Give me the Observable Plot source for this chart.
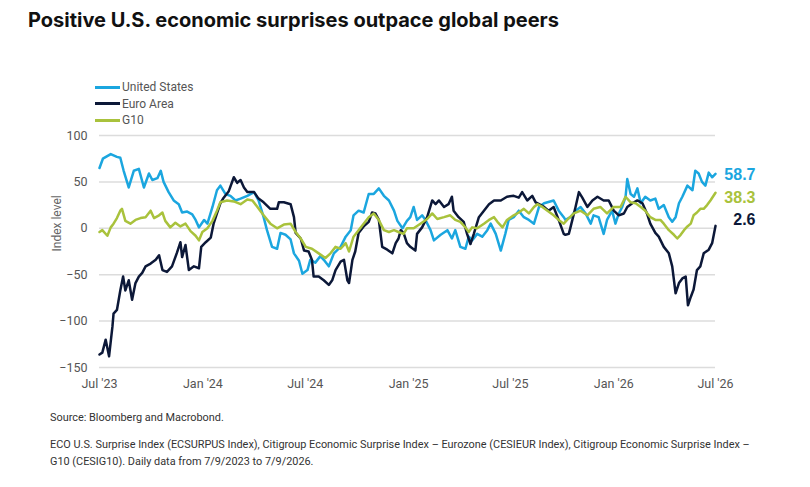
<!DOCTYPE html>
<html>
<head>
<meta charset="utf-8">
<script src="https://cdn.jsdelivr.net/npm/d3@7"></script>
<script src="https://cdn.jsdelivr.net/npm/@observablehq/plot@0.6"></script>
<style>
  body { margin: 0; background: #fff; }
  #page { position: relative; width: 810px; height: 487px; overflow: hidden; font-family: "Roboto", sans-serif; }
  #title { position: absolute; left: 28px; top: 8px; font: 700 20px "Inter", "Liberation Sans", sans-serif; color: #111; white-space: nowrap; }
  #chart { position: absolute; left: 0; top: 70px; }
  #legend { position: absolute; left: 95px; top: 79px; font-size: 12px; color: #555; }
  #legend .row { display: flex; align-items: center; height: 16.5px; }
  #legend .sw { width: 25px; height: 3px; margin-right: 2px; }
  .foot { position: absolute; left: 50px; font-size: 10.9px; color: #333; line-height: 17px; white-space: nowrap; }
</style>
</head>
<body>
<div id="page">
  <div id="title">Positive U.S. economic surprises outpace global peers</div>
  <div id="chart"></div>
  <div id="legend"></div>
  <div class="foot" style="top:409px">Source: Bloomberg and Macrobond.</div>
  <div class="foot" style="top:436px">ECO U.S. Surprise Index (ECSURPUS Index), Citigroup Economic Surprise Index – Eurozone (CESIEUR Index), Citigroup Economic Surprise Index –<br>G10 (CESIG10). Daily data from 7/9/2023 to 7/9/2026.</div>
</div>
<script>
// Series names and colours
const seriesNames = ["United States", "Euro Area", "G10"];
const seriesColors = ["#1ba6df", "#0c1838", "#a9c23c"];

// Days since 9 Jul 2023 and index level, per series
const usDays = [0,6,20,31,37,43,52,61,70,79,88,94,103,109,114,123,132,141,147,156,165,171,177,186,192,201,209,215,224,233,242,251,263,275,283,292,298,307,316,322,331,340,346,355,361,370,375,384,393,399,408,417,429,438,447,452,461,470,479,488,497,506,515,524,530,539,547,553,559,565,574,580,589,595,607,619,627,633,642,651,657,663,672,681,690,696,705,714,722,728,737,746,755,764,773,782,791,808,817,826,829,838,847,856,865,874,879,888,897,903,912,918,924,930,936,939,945,951,957,963,971,980,989,995,1004,1013,1019,1025,1031,1037,1046,1055,1060,1066,1072,1078,1084,1090,1096];
const usValues = [65,75,80,77,76,62,44,62,64,44,59,52,54,62,50,39,30,26,17,18,15,9,1,9,5,23,41,46,37,35,30,32,35,39,30,12,-2,-20,-22,-5,-7,-12,-27,-35,-49,-45,-34,-37,-30,-34,-41,-27,-20,-9,-2,14,19,17,37,37,43,35,30,19,8,0,8,12,23,9,14,9,-2,-13,-7,-2,-11,-2,-20,-22,-9,-13,-6,-9,-2,5,-6,-24,-6,9,12,19,12,9,5,23,27,30,19,12,9,12,19,23,16,5,14,12,-6,9,19,5,16,23,34,53,37,34,43,27,34,30,32,21,25,12,7,12,27,34,46,41,62,59,50,46,60,55,58.7];

const euDays = [0,5,11,17,23,25,31,37,42,46,52,58,64,70,76,82,91,100,106,112,120,129,138,144,147,153,159,168,177,181,189,198,203,209,215,221,230,239,245,251,257,263,275,283,292,304,316,319,328,340,346,349,358,364,372,378,381,390,399,408,414,420,429,435,441,444,450,455,461,470,479,485,491,497,503,512,521,527,532,536,541,547,553,562,565,574,583,592,598,604,613,621,627,630,639,648,654,660,666,675,684,693,702,714,725,737,746,752,761,770,776,782,791,799,808,817,826,829,835,838,847,853,859,868,877,886,897,906,915,924,933,939,948,957,966,974,980,989,995,1004,1013,1019,1025,1031,1037,1043,1047,1052,1057,1063,1069,1075,1084,1090,1096];
const euValues = [-136,-134,-120,-138,-106,-92,-88,-67,-52,-67,-56,-77,-59,-52,-48,-41,-38,-34,-29,-45,-47,-41,-26,-15,-31,-18,-45,-41,-43,-20,-15,-10,5,16,27,33,40,55,49,52,44,39,39,32,28,21,21,28,28,26,12,-5,-11,-24,-25,-34,-52,-52,-56,-61,-56,-45,-36,-34,-56,-59,-34,-25,-5,2,7,17,16,9,-20,-23,-27,-16,-11,-2,-5,-16,-20,-24,-6,1,12,30,26,30,23,26,34,19,12,7,-6,-17,-6,12,19,26,30,30,34,35,33,39,30,35,28,26,23,19,23,9,-6,-7,-6,1,23,39,33,23,30,34,30,30,19,14,16,23,27,30,27,16,5,-5,-9,-20,-27,-41,-70,-59,-54,-52,-83,-74,-66,-45,-41,-27,-23,-16,2.6];

const g10Days = [0,5,14,20,25,31,37,40,46,55,64,73,82,91,97,106,112,117,126,135,144,153,162,171,177,183,192,201,209,215,227,239,251,263,272,281,292,304,316,328,340,349,358,367,378,390,402,411,420,429,438,444,452,461,470,479,488,497,506,515,524,532,541,547,559,571,583,592,601,613,624,633,642,651,657,663,672,684,693,702,708,717,725,737,746,755,764,773,779,788,797,808,817,826,832,844,856,868,879,891,903,915,927,936,945,954,963,971,980,989,998,1004,1013,1022,1028,1034,1040,1046,1052,1057,1063,1069,1075,1081,1087,1096];
const g10Values = [-4,-2,-8,1,5,11,19,21,8,5,9,11,12,19,11,14,17,8,1,6,2,5,-3,-8,-13,-4,0,8,19,28,30,29,26,31,30,23,14,5,0,4,5,-4,-11,-20,-22,-27,-32,-27,-20,-22,-16,-25,-9,-2,5,12,16,9,-2,-4,-2,-4,-6,0,0,5,10,16,10,12,14,9,7,1,-4,1,0,5,9,12,7,1,9,14,17,21,16,23,26,23,19,14,9,5,9,16,19,14,21,23,16,23,23,34,28,27,23,19,12,9,9,5,-2,-7,-11,-7,-2,2,5,14,17,21,21,25,30,38.3];

// Axis ticks
const yTicks = [-150, -100, -50, 0, 50, 100];
const xTickLabels = ["Jul '23", "Jan '24", "Jul '24", "Jan '25", "Jul '25", "Jan '26", "Jul '26"];
const xTickDates = ["2023-07-09", "2024-01-09", "2024-07-09", "2025-01-09", "2025-07-09", "2026-01-09", "2026-07-09"];

const start = new Date(Date.UTC(2023, 6, 9));
const end = new Date(Date.UTC(2026, 6, 9));
const tickDates = xTickDates.map(s => new Date(s + "T00:00:00Z"));
const labelOf = new Map(tickDates.map((d, i) => [+d, xTickLabels[i]]));

const toRows = (name, days, values) =>
  days.map((d, i) => ({ series: name, date: d3.utcDay.offset(start, d), value: values[i] }));

const usRows = toRows(seriesNames[0], usDays, usValues);
const euRows = toRows(seriesNames[1], euDays, euValues);
const g10Rows = toRows(seriesNames[2], g10Days, g10Values);
const rows = [...usRows, ...euRows, ...g10Rows];

// Value labels at the right end of each line
const endLabel = (r, dy) => Plot.text([r[r.length - 1]], {
  x: "date", y: "value", text: d => d.value.toFixed(1), fill: "series",
  textAnchor: "end", dx: 40, dy, fontSize: 16, fontWeight: 700,
  fontFamily: "Liberation Sans, Arial, sans-serif"
});

const chart = Plot.plot({
  width: 810,
  height: 327,
  marginLeft: 99,
  marginRight: 95,
  marginTop: 65,
  marginBottom: 30,
  style: { fontFamily: "Roboto, sans-serif", color: "#555", background: "transparent" },
  x: { type: "utc", domain: [start, end] },
  y: { domain: [-150, 100] },
  color: { domain: seriesNames, range: seriesColors },
  marks: [
    Plot.ruleY(yTicks, { stroke: "#dcdcdc", strokeWidth: 1.5 }),
    Plot.axisY(yTicks, { tickSize: 0, tickPadding: 12, fontSize: 12.5, label: null }),
    Plot.axisX(tickDates, { tickSize: 0, tickPadding: 12, fontSize: 12.5, label: null, tickFormat: d => labelOf.get(+d) }),
    Plot.text(["Index level"], { frameAnchor: "left", dx: -42, rotate: -90, fontSize: 12, fill: "#666" }),
    Plot.line(rows, { x: "date", y: "value", z: "series", stroke: "series", strokeWidth: 2.5, strokeLinejoin: "round" }),
    endLabel(usRows, 1),
    endLabel(g10Rows, 5),
    endLabel(euRows, -6)
  ]
});
document.getElementById("chart").append(chart);

// Legend
const legend = document.getElementById("legend");
seriesNames.forEach((name, i) => {
  const row = document.createElement("div");
  row.className = "row";
  const sw = document.createElement("span");
  sw.className = "sw";
  sw.style.background = seriesColors[i];
  const label = document.createElement("span");
  label.textContent = name;
  row.append(sw, label);
  legend.append(row);
});
</script>
</body>
</html>
